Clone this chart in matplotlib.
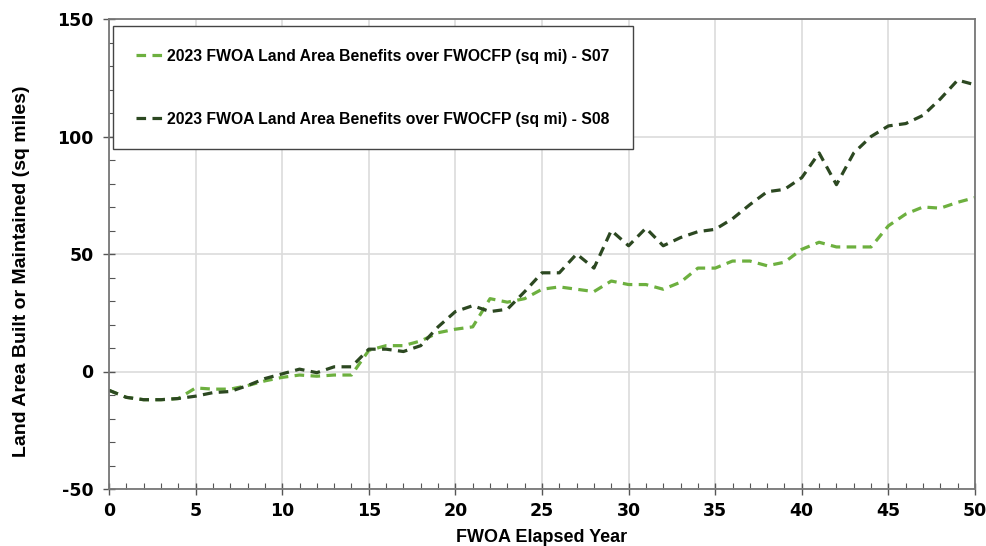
import numpy as np
import matplotlib
matplotlib.use("Agg")
import matplotlib.pyplot as plt
from matplotlib.ticker import MultipleLocator

plt.rcParams["axes.unicode_minus"] = False

# elapsed years and land area benefit series (sq mi)
years = list(range(0, 51))
s07 = [-8, -11, -12, -12, -11.5, -7, -7.5, -7.5, -6, -4,
       -2.5, -1.5, -2, -1.5, -1.5, 9, 11, 11, 13, 16.5,
       18, 19, 31, 29.5, 31, 35, 36, 35, 34, 38.5,
       37, 37, 35, 38, 44, 44, 47, 47, 45, 46.5,
       52, 55, 53, 53, 53, 62, 67, 70, 69.5, 72,
       74]
s08 = [-8, -11, -12, -12, -11.5, -10.5, -9, -8.5, -6, -3,
       -1, 1, -0.5, 2, 2, 9.5, 9.5, 8.5, 11, 19,
       25.5, 28, 25.5, 26.5, 34, 42, 42, 50, 44, 60,
       53.5, 61, 53.5, 57, 59.5, 60.5, 65, 71, 76.5, 77.5,
       82.5, 93, 79.5, 93, 100, 104.5, 105.5, 109, 116, 124,
       122]
labels = ["2023 FWOA Land Area Benefits over FWOCFP (sq mi) - S07",
          "2023 FWOA Land Area Benefits over FWOCFP (sq mi) - S08"]
colors = ["#6DB03F", "#2C4821"]

fig = plt.figure(figsize=(9.87, 5.46), dpi=100)
ax = fig.add_axes([109 / 987, 57 / 546, 866 / 987, 470 / 546])

for vals, lab, col in zip([s07, s08], labels, colors):
    ax.plot(years, vals, color=col, lw=2.3, linestyle=(0, (3, 2)), label=lab)

ax.set_xlim(0, 50)
ax.set_ylim(-50, 150)
ax.xaxis.set_major_locator(MultipleLocator(5))
ax.xaxis.set_minor_locator(MultipleLocator(1))
ax.yaxis.set_major_locator(MultipleLocator(50))
ax.yaxis.set_minor_locator(MultipleLocator(10))
ax.grid(True, which="major", color="#dcdcdc", lw=1.2)
ax.set_axisbelow(True)

ax.tick_params(which="major", direction="inout", length=8, width=1, color="#555555")
ax.tick_params(which="minor", direction="in", length=4, width=0.8, color="#555555")
for spine in ax.spines.values():
    spine.set_color("#777777")
    spine.set_linewidth(1.3)

for t in ax.get_xticklabels() + ax.get_yticklabels():
    t.set_fontfamily("DejaVu Sans")
    t.set_fontweight("bold")
    t.set_fontsize(12.5)
ax.tick_params(axis="x", pad=5)
ax.tick_params(axis="y", pad=7)

ax.set_xlabel("FWOA Elapsed Year", fontfamily="Liberation Sans", fontweight="bold",
              fontsize=13, va="center")
ax.xaxis.set_label_coords(0.5, -0.103)
ax.set_ylabel("Land Area Built or Maintained (sq miles)", fontfamily="Liberation Sans",
              fontweight="bold", fontsize=14, va="center")
ax.yaxis.set_label_coords(-0.1016, 0.463)

leg = ax.legend(loc="upper left", bbox_to_anchor=(0.005, 0.985), frameon=True,
                fancybox=False, edgecolor="#444444", framealpha=1,
                prop={"family": "Liberation Sans", "weight": "bold", "size": 11.3},
                handlelength=2.0, handletextpad=0.0, labelspacing=3.05,
                borderpad=1.45, borderaxespad=0)
leg.get_frame().set_linewidth(1.0)

fig.savefig("out.png", dpi=100)
